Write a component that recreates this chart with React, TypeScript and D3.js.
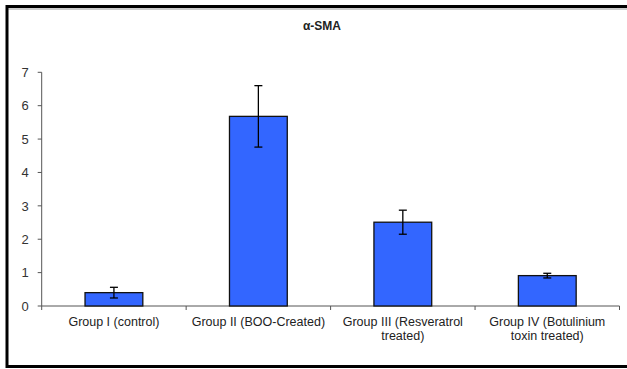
import React from "react";
import * as d3 from "d3";

const title = "α-SMA";
const categories: string[][] = [
  ["Group I (control)"],
  ["Group II (BOO-Created)"],
  ["Group III (Resveratrol", "treated)"],
  ["Group IV (Botulinium", "toxin treated)"],
];
const values = [0.4, 5.68, 2.51, 0.91];
const errors = [0.16, 0.92, 0.36, 0.07];
const yTicks = [0, 1, 2, 3, 4, 5, 6, 7];

const W = 627;
const H = 369;
const left = 41.7;
const right = 619.5;
const top = 72.3;
const bottom = 306;

export default function App() {
  const keys = categories.map((c) => c.join(" "));
  const x = d3.scaleBand<string>().domain(keys).range([left, right]).paddingInner(0.6).paddingOuter(0.3);
  const y = d3.scaleLinear().domain([0, 7]).range([bottom, top]);
  const step = x.step();
  const font = "'Liberation Sans', Arial, sans-serif";
  const boundaries = d3.range(categories.length + 1).map((i) => left + i * step);

  return (
    <svg width={W} height={H} style={{ position: "absolute", left: 0, top: 0, background: "#fff" }} fontFamily={font}>
      <rect x={0} y={0} width={W} height={H} fill="#fff" />
      {/* frame */}
      <line x1={7.5} y1={9} x2={W} y2={9} stroke="#999" strokeWidth={1} />
      <rect x={7} y={6.5} width={W + 20} height={360} fill="none" stroke="#000" strokeWidth={3} />
      <text x={322} y={30} textAnchor="middle" fontSize={12} fontWeight="bold" fill="#222">{title}</text>

      {/* y axis */}
      <line x1={left} y1={top} x2={left} y2={bottom} stroke="#555" strokeWidth={1} />
      {yTicks.map((t) => (
        <g key={t}>
          <line x1={left - 4} x2={left} y1={y(t)} y2={y(t)} stroke="#555" />
          <text x={left - 13} y={y(t)} dy="0.36em" textAnchor="end" fontSize={13} fill="#333">{t}</text>
        </g>
      ))}

      {/* x axis */}
      <line x1={left} y1={bottom} x2={right} y2={bottom} stroke="#555" strokeWidth={1} />
      {boundaries.map((b, i) => (
        <line key={i} x1={b} x2={b} y1={bottom} y2={bottom + 4} stroke="#555" />
      ))}
      {categories.map((lines, i) => (
        <text key={i} textAnchor="middle" fontSize={12.5} fill="#222">
          {lines.map((ln, j) => (
            <tspan key={j} x={(x(keys[i]) as number) + x.bandwidth() / 2} y={326 + j * 14}>{ln}</tspan>
          ))}
        </text>
      ))}

      {/* bars */}
      {values.map((v, i) => (
        <rect key={i} x={x(keys[i])} y={y(v)} width={x.bandwidth()} height={y(0) - y(v)} fill="#3366FF" stroke="#111" strokeWidth={1.3} />
      ))}
      {/* error bars */}
      {values.map((v, i) => {
        const cx = (x(keys[i]) as number) + x.bandwidth() / 2;
        const y1 = y(v + errors[i]);
        const y2 = y(v - errors[i]);
        return (
          <g key={i} stroke="#000" strokeWidth={1.3}>
            <line x1={cx} x2={cx} y1={y1} y2={y2} />
            <line x1={cx - 4} x2={cx + 4} y1={y1} y2={y1} />
            <line x1={cx - 4} x2={cx + 4} y1={y2} y2={y2} />
          </g>
        );
      })}
    </svg>
  );
}
